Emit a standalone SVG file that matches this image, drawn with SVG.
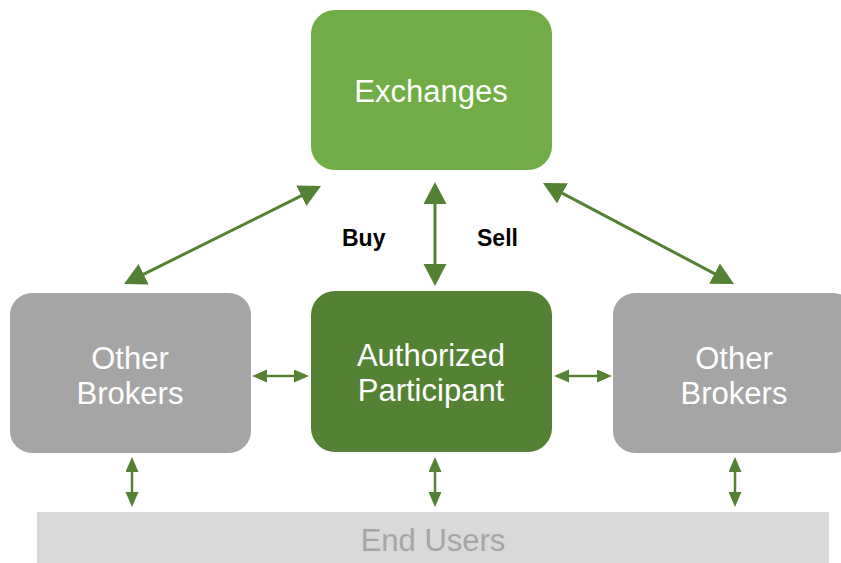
<svg xmlns="http://www.w3.org/2000/svg" width="841" height="563" viewBox="0 0 841 563">
  <style>
    .box-light { fill: #70ad47; }
    .box-dark { fill: #548235; }
    .box-gray { fill: #a5a5a5; }
    .band { fill: #d9d9d9; }
    .label { font-family: "Liberation Sans", Arial, sans-serif; font-size: 31px; fill: #ffffff; text-anchor: middle; }
    .band-label { font-family: "Liberation Sans", Arial, sans-serif; font-size: 31px; fill: #a6a6a6; text-anchor: middle; }
    .side { font-family: "Liberation Sans", Arial, sans-serif; font-size: 23px; font-weight: bold; fill: #000000; }
    .link { stroke: #548235; stroke-width: 3; fill: none; marker-start: url(#head-big); marker-end: url(#head-big); }
    .link-small { stroke: #548235; stroke-width: 2.5; fill: none; marker-start: url(#head-small); marker-end: url(#head-small); }
  </style>
  <defs>
    <marker id="head-big" markerUnits="userSpaceOnUse" markerWidth="24" markerHeight="24" refX="2" refY="11.5" orient="auto-start-reverse" viewBox="0 0 24 24">
      <path d="M0,0 L22,11.5 L0,23 z" fill="#548235"/>
    </marker>
    <marker id="head-small" markerUnits="userSpaceOnUse" markerWidth="16" markerHeight="14" refX="1" refY="6.5" orient="auto-start-reverse" viewBox="0 0 16 14">
      <path d="M0,0 L15,6.5 L0,13 z" fill="#548235"/>
    </marker>
  </defs>

  <!-- end users band -->
  <g id="end-users">
    <rect class="band" x="37" y="512" width="792" height="51"/>
    <text class="band-label" x="433" y="551">End Users</text>
  </g>

  <g id="exchanges">
    <rect class="box-light" x="311" y="10" width="241" height="160" rx="24"/>
    <text class="label" x="431" y="102">Exchanges</text>
  </g>

  <g id="authorized-participant">
    <rect class="box-dark" x="311" y="291" width="241" height="161" rx="24"/>
    <text class="label" x="431" y="366">Authorized</text>
    <text class="label" x="431" y="401">Participant</text>
  </g>

  <g id="brokers-left">
    <rect class="box-gray" x="10" y="293" width="241" height="160" rx="22"/>
    <text class="label" x="130" y="369">Other</text>
    <text class="label" x="130" y="404">Brokers</text>
  </g>

  <g id="brokers-right">
    <rect class="box-gray" x="613" y="293" width="242" height="160" rx="22"/>
    <text class="label" x="734" y="369">Other</text>
    <text class="label" x="734" y="404">Brokers</text>
  </g>

  <g id="trade-labels">
    <text class="side" x="342" y="246">Buy</text>
    <text class="side" x="477" y="246">Sell</text>
  </g>

  <g id="connectors">
    <line class="link" x1="303.1" y1="194.9" x2="141.9" y2="275.1"/>
    <line class="link" x1="560.7" y1="192.4" x2="716.3" y2="274.6"/>
    <line class="link" x1="435" y1="202" x2="435" y2="266"/>
    <line class="link-small" x1="266" y1="376" x2="295" y2="376"/>
    <line class="link-small" x1="568" y1="376" x2="598" y2="376"/>
    <line class="link-small" x1="132" y1="471" x2="132" y2="493"/>
    <line class="link-small" x1="435" y1="471" x2="435" y2="493"/>
    <line class="link-small" x1="735" y1="471" x2="735" y2="493"/>
  </g>
</svg>
